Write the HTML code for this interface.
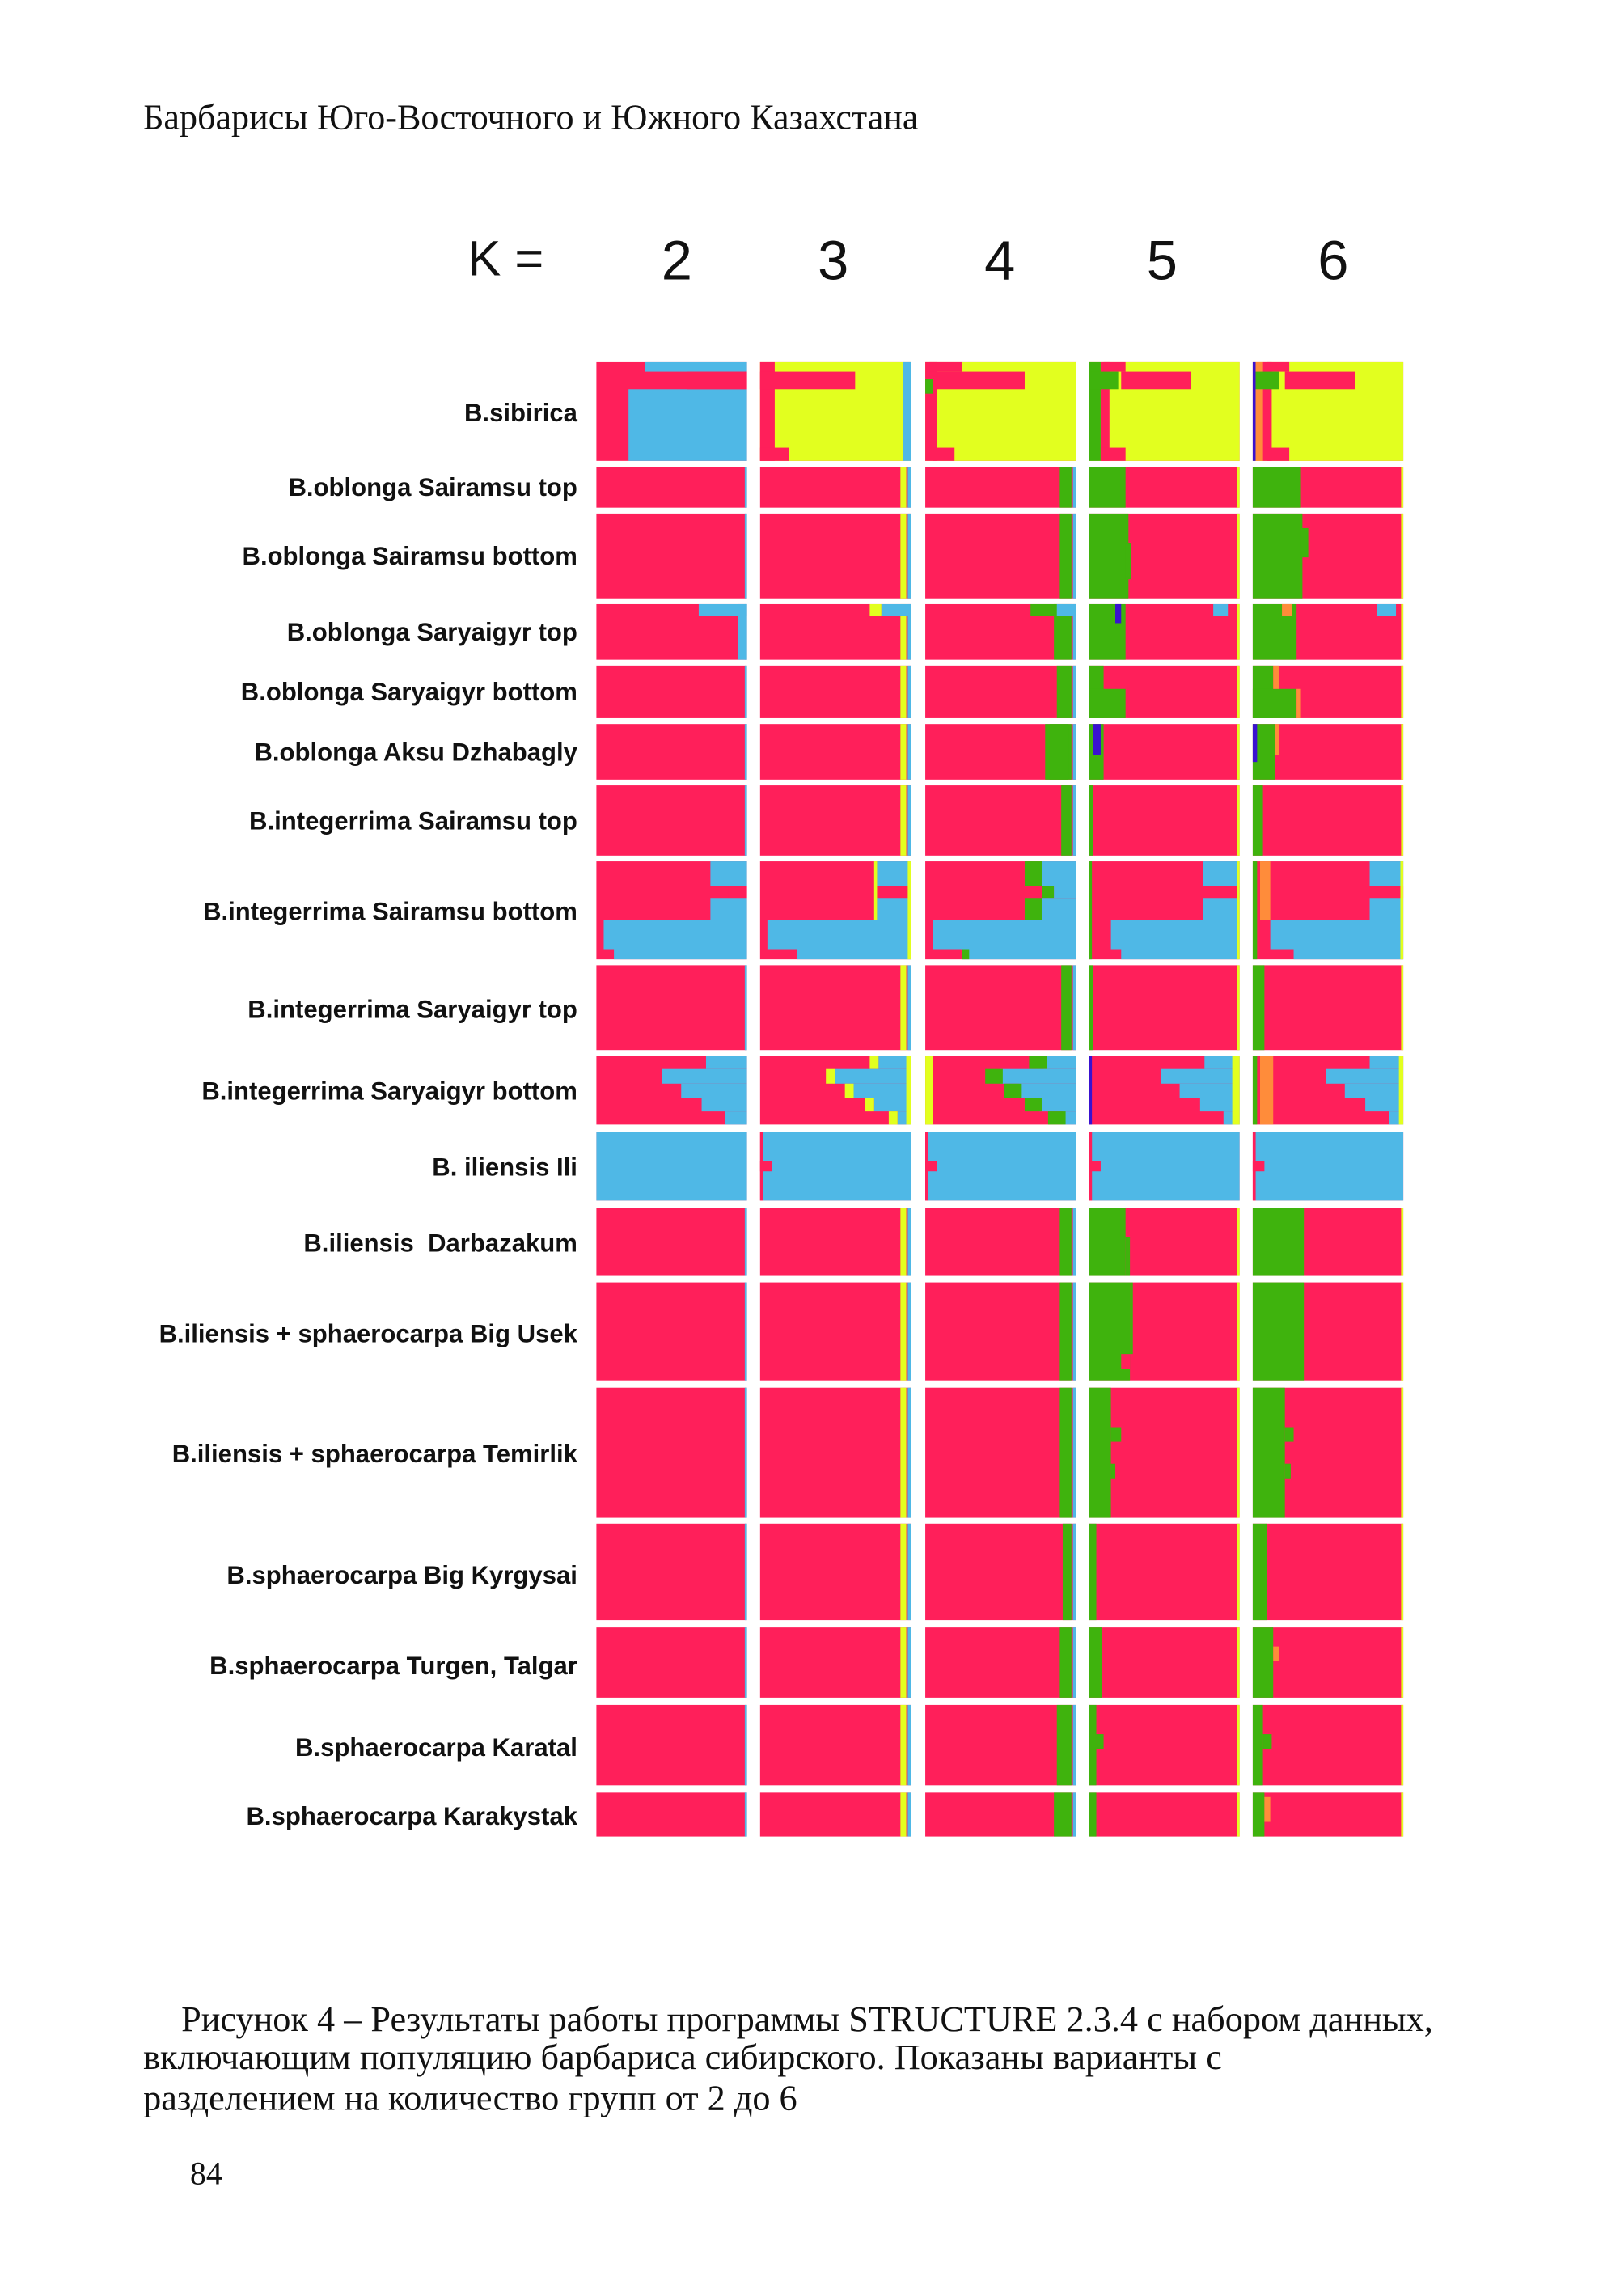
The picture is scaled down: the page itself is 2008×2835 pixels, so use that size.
<!DOCTYPE html>
<html><head><meta charset="utf-8">
<style>
html,body{margin:0;padding:0;background:#fff;width:2008px;height:2835px;overflow:hidden}
svg{display:block}
.lab{font-family:"Liberation Sans",sans-serif;font-weight:bold;font-size:17.2px;fill:#111}
.ser{font-family:"Liberation Serif","DejaVu Serif",serif;fill:#111}
.k{font-family:"Liberation Sans",sans-serif;fill:#111}
</style></head>
<body>
<svg id="s" width="2008" height="2835" viewBox="0 0 1111 1566" xmlns="http://www.w3.org/2000/svg">
<text class="ser" x="98" y="87" font-size="24.4">Барбарисы Юго-Восточного и Южного Казахстана</text>
<text class="k" x="320" y="187" font-size="34">K =</text>
<text class="k" x="463" y="190" font-size="38" text-anchor="middle">2</text>
<text class="k" x="570" y="190" font-size="38" text-anchor="middle">3</text>
<text class="k" x="684" y="190" font-size="38" text-anchor="middle">4</text>
<text class="k" x="795" y="190" font-size="38" text-anchor="middle">5</text>
<text class="k" x="912" y="190" font-size="38" text-anchor="middle">6</text>
<g id="bars"></g>
<g text-anchor="end">
<text class="lab" x="395" y="287">B.sibirica</text>
<text class="lab" x="395" y="338">B.oblonga Sairamsu top</text>
<text class="lab" x="395" y="385">B.oblonga Sairamsu bottom</text>
<text class="lab" x="395" y="437">B.oblonga Saryaigyr top</text>
<text class="lab" x="395" y="478">B.oblonga Saryaigyr bottom</text>
<text class="lab" x="395" y="519">B.oblonga Aksu Dzhabagly</text>
<text class="lab" x="395" y="566">B.integerrima Sairamsu top</text>
<text class="lab" x="395" y="628">B.integerrima Sairamsu bottom</text>
<text class="lab" x="395" y="695">B.integerrima Saryaigyr top</text>
<text class="lab" x="395" y="751">B.integerrima Saryaigyr bottom</text>
<text class="lab" x="395" y="803">B. iliensis Ili</text>
<text class="lab" x="395" y="855">B.iliensis&#160; Darbazakum</text>
<text class="lab" x="395" y="917">B.iliensis + sphaerocarpa Big Usek</text>
<text class="lab" x="395" y="999">B.iliensis + sphaerocarpa Temirlik</text>
<text class="lab" x="395" y="1082">B.sphaerocarpa Big Kyrgysai</text>
<text class="lab" x="395" y="1144">B.sphaerocarpa Turgen, Talgar</text>
<text class="lab" x="395" y="1200">B.sphaerocarpa Karatal</text>
<text class="lab" x="395" y="1247">B.sphaerocarpa Karakystak</text>
</g>
<text class="ser" x="124" y="1388" font-size="24.5">Рисунок 4 – Результаты работы программы STRUCTURE 2.3.4 с набором данных,</text>
<text class="ser" x="98" y="1414" font-size="24.5">включающим популяцию барбариса сибирского. Показаны варианты с</text>
<text class="ser" x="98" y="1442" font-size="24.5">разделением на количество групп от 2 до 6</text>
<text class="ser" x="130" y="1493" font-size="22">84</text>
</svg>
<script>
var R='#ff1f5a',B='#4fb8e6',Y='#e2ff1f',G='#3fb30d',O='#ff8c3a',P='#3a12d0';
var X=[408,520,633,745,857],W=103;
var rows=[[246,314],[318,346],[350,408],[412,450],[454,490],[494,532],[536,584],[588,655],[659,717],[721,768],[773,820],[825,871],[876,943],[948,1037],[1041,1107],[1112,1160],[1165,1220],[1225,1255]];
var g=document.getElementById('bars'),NS='http://www.w3.org/2000/svg';
function r(k,x0,x1,y0,y1,c){var e=document.createElementNS(NS,'rect');e.setAttribute('x',X[k]+x0);e.setAttribute('y',y0);e.setAttribute('width',x1-x0);e.setAttribute('height',y1-y0);e.setAttribute('fill',c);g.appendChild(e);}
function bg(i,k,c){r(k,0,W,rows[i][0],rows[i][1],c);}
for(var i=0;i<rows.length;i++)for(var k=0;k<5;k++)bg(i,k,R);
var a=246,b=314;
r(0,33,W,a,253,B);r(0,22,W,265,b,B);r(0,62,W,253,265,R);
r(1,0,W,a,b,Y);r(1,0,10,a,b,R);r(1,0,65,253,265,R);r(1,0,20,305,b,R);r(1,98,W,a,b,B);
r(2,0,W,a,b,Y);r(2,0,8,a,b,R);r(2,3,25,a,253,R);r(2,3,68,253,265,R);r(2,0,5,258,268,G);r(2,5,20,305,b,R);
r(3,0,W,a,b,Y);r(3,0,8,a,b,G);r(3,8,14,a,b,R);r(3,10,25,a,253,R);r(3,0,20,253,265,G);r(3,22,70,253,265,R);r(3,8,25,305,b,R);
r(4,0,W,a,b,Y);r(4,0,2,a,b,P);r(4,2,7,a,b,O);r(4,7,13,a,b,R);r(4,10,25,a,253,R);r(4,2,18,253,265,G);r(4,22,70,253,265,R);r(4,10,25,305,b,R);
function strips(i,o){var y0=rows[i][0],y1=rows[i][1];
 r(1,96,100,y0,y1,Y);r(1,101,W,y0,y1,B);
 r(2,o.g4||92,100,y0,y1,G);r(2,101,W,y0,y1,B);
 r(3,0,o.g5||4,y0,y1,G);r(3,101,W,y0,y1,Y);
 r(4,0,o.g6||7,y0,y1,G);r(4,101.5,W,y0,y1,Y);
 r(0,101.5,W,y0,y1,B);}
strips(1,{g5:25,g6:33});
strips(2,{g5:27,g6:34});r(3,25,29,370,395,G);r(4,33,38,360,380,G);
strips(3,{g4:88,g5:25,g6:30});
r(0,70,W,412,420,B);r(0,97,W,412,450,B);r(1,75,83,412,420,Y);r(1,83,W,412,420,B);
r(2,72,90,412,420,G);r(2,90,W,412,420,B);r(3,85,95,412,420,B);r(3,18,22,412,425,P);r(4,20,27,412,420,O);r(4,85,98,412,420,B);
strips(4,{g4:90,g5:10,g6:14});r(3,0,25,470,490,G);r(4,0,30,470,490,G);r(4,14,18,454,470,O);r(4,30,33,470,490,O);
strips(5,{g4:82,g5:10,g6:15});r(3,3,8,494,515,P);r(4,0,3,494,520,P);r(4,15,18,494,515,O);r(2,85,98,494,532,G);
strips(6,{g4:93,g5:3,g6:7});
r(0,78,W,588,605,B);r(0,90,W,605,613,R);r(0,78,W,613,628,B);r(0,5,W,628,648,B);r(0,12,W,648,655,B);
r(1,80,W,588,605,B);r(1,78,80,588,628,Y);r(1,80,W,613,628,B);r(1,5,W,628,648,B);r(1,25,W,648,655,B);r(1,101,W,588,655,Y);
r(2,68,80,588,605,G);r(2,80,W,588,605,B);r(2,80,88,605,613,G);r(2,88,W,605,613,B);r(2,68,80,613,628,G);r(2,80,W,613,628,B);r(2,5,W,628,648,B);r(2,25,W,648,655,B);r(2,25,30,648,655,G);
r(3,0,2,588,655,G);r(3,78,W,588,605,B);r(3,90,W,605,613,R);r(3,78,W,613,628,B);r(3,15,W,628,648,B);r(3,22,W,648,655,B);r(3,101,W,588,655,Y);
r(4,0,3,588,655,G);r(4,5,12,588,628,O);r(4,80,W,588,605,B);r(4,88,W,605,613,R);r(4,80,W,613,628,B);r(4,12,W,628,648,B);r(4,28,W,648,655,B);r(4,101,W,588,655,Y);
strips(8,{g4:93,g5:3,g6:8});
var st=[[721,730,75],[730,740,45],[740,750,58],[750,759,72],[759,768,88]];
st.forEach(function(s){r(0,s[2],W,s[0],s[1],B);r(1,s[2]+6,W,s[0],s[1],B);r(1,s[2],s[2]+6,s[0],s[1],Y);
 r(2,s[2]+6,W,s[0],s[1],B);r(2,s[2]-4,s[2]+8,s[0],s[1],G);r(3,s[2]+4,W,s[0],s[1],B);r(4,s[2]+5,W,s[0],s[1],B);});
r(1,100,W,721,768,Y);r(2,0,5,721,768,Y);r(3,0,2,721,768,P);r(3,98,W,721,768,Y);r(4,0,3,721,768,G);r(4,5,14,721,768,O);r(4,100,W,721,768,Y);
for(var k=0;k<5;k++){r(k,(k?2:0),W,773,820,B);}
for(var k=1;k<5;k++){r(k,0,2,773,820,R);r(k,0,8,793,800,R);}
strips(11,{g4:92,g5:25,g6:35});r(3,25,28,845,871,G);
strips(12,{g4:92,g5:28,g6:35});r(3,28,30,876,925,G);r(3,22,28,925,935,R);
strips(13,{g4:92,g5:15,g6:22});r(3,15,22,975,985,G);r(4,22,28,975,985,G);r(3,15,18,1000,1010,G);r(4,22,26,1000,1010,G);
strips(14,{g4:94,g5:5,g6:10});
strips(15,{g4:92,g5:9,g6:14});r(4,14,18,1125,1135,O);
strips(16,{g4:90,g5:5,g6:7});r(3,5,10,1185,1195,G);r(4,7,13,1185,1195,G);
strips(17,{g4:88,g5:5,g6:8});r(4,8,12,1228,1245,O);
</script>
</body></html>
